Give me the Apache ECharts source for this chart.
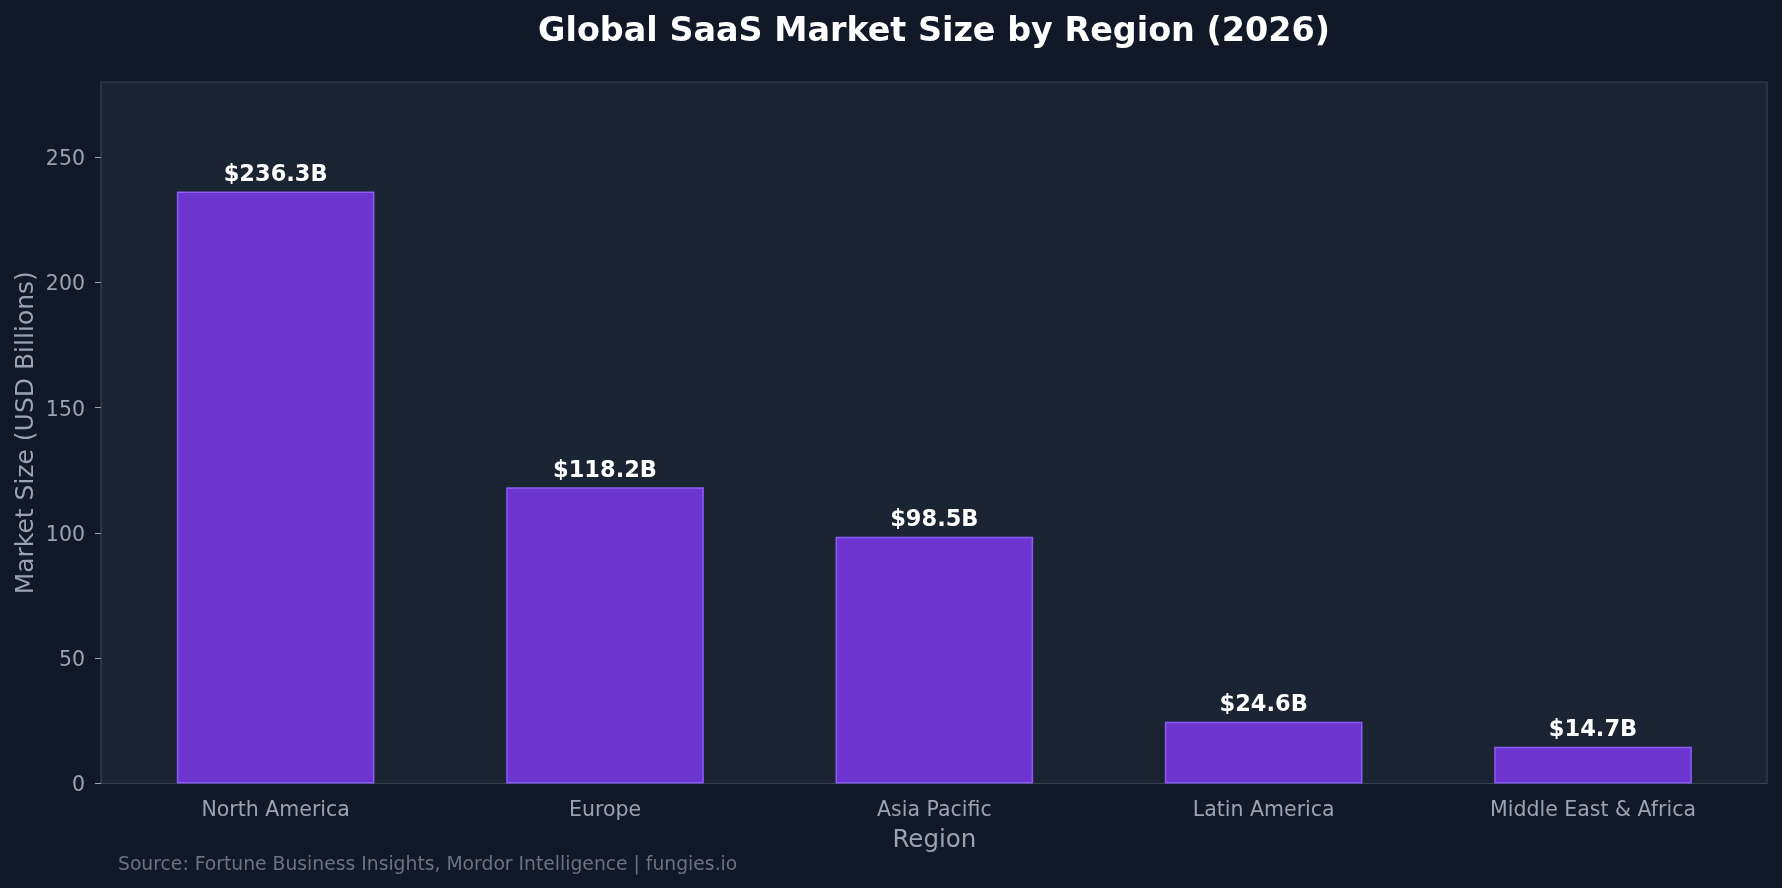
<!DOCTYPE html>
<html>
<head>
<meta charset="utf-8">
<script src="https://cdn.jsdelivr.net/npm/echarts@6/dist/echarts.min.js"></script>
<style>
  html, body { margin: 0; padding: 0; background: #111827; }
  #chart { width: 1782px; height: 888px; }
</style>
</head>
<body>
<div id="chart"></div>
<script>
var regions = ['North America', 'Europe', 'Asia Pacific', 'Latin America', 'Middle East & Africa'];
var marketSize = [236.3, 118.2, 98.5, 24.6, 14.7];
var yTicks = [0, 50, 100, 150, 200, 250];

var chart = echarts.init(document.getElementById('chart'));
var font = 'DejaVu Sans';
var gray = '#9ca3af';

// grid 0 = plot frame + y axis, grid 1 = bars (slightly inset like the original x limits)
chart.setOption({
    backgroundColor: '#111827',
    textStyle: { fontFamily: font },
    title: [{
        text: 'Global SaaS Market Size by Region (2026)',
        left: 929,
        top: 11,
        textAlign: 'center',
        textStyle: { color: '#ffffff', fontSize: 33.4, fontWeight: 'bold', fontFamily: font }
    }, {
        text: 'Source: Fortune Business Insights, Mordor Intelligence | fungies.io',
        left: 113,
        top: 851,
        textStyle: { color: '#6b7280', fontSize: 18.75, fontWeight: 'normal', fontFamily: font }
    }],
    grid: [{
        left: 101,
        right: 15,
        top: 82,
        bottom: 104.5,
        show: true,
        backgroundColor: '#1b2433',
        borderColor: '#374151',
        borderWidth: 1.2
    }, {
        left: 111,
        right: 24.3,
        top: 82,
        bottom: 104.5
    }],
    xAxis: [{
        type: 'value',
        gridIndex: 0,
        show: false
    }, {
        type: 'category',
        gridIndex: 1,
        data: regions,
        name: 'Region',
        nameLocation: 'middle',
        nameGap: 45,
        nameMoveOverlap: false,
        nameTextStyle: { color: gray, fontSize: 24.5, fontFamily: font },
        axisLine: { show: false },
        axisTick: { alignWithLabel: true, length: 6, lineStyle: { color: gray } },
        axisLabel: { color: gray, fontSize: 20.5, margin: 17, fontFamily: font }
    }],
    yAxis: [{
        type: 'value',
        gridIndex: 0,
        min: 0,
        max: 280,
        interval: 50,
        name: 'Market Size (USD Billions)',
        nameLocation: 'middle',
        nameGap: 62,
        nameMoveOverlap: false,
        nameTextStyle: { color: gray, fontSize: 25, fontFamily: font },
        splitLine: { show: false },
        axisLine: { show: false },
        axisTick: { show: true, length: 6, customValues: yTicks, lineStyle: { color: gray } },
        axisLabel: {
            color: gray, fontSize: 20.5, margin: 16, fontFamily: font,
            customValues: yTicks,
            formatter: function (v) { return yTicks.indexOf(v) >= 0 ? '{v|' + v + '}' : ''; },
            rich: {
                v: { color: gray, fontSize: 20.5, fontFamily: font, padding: [5, 0, 0, 0] }
            }
        }
    }, {
        type: 'value',
        gridIndex: 1,
        min: 0,
        max: 280,
        show: false
    }],
    series: [{
        type: 'bar',
        xAxisIndex: 1,
        yAxisIndex: 1,
        data: marketSize,
        barWidth: '60%',
        itemStyle: { color: '#6d35cf', borderColor: '#8b5cf6', borderWidth: 1.5 },
        label: {
            show: true,
            position: 'top',
            distance: 5,
            color: '#ffffff',
            fontSize: 22.5,
            fontWeight: 'bold',
            fontFamily: font,
            formatter: function (p) { return '$' + p.value.toFixed(1) + 'B'; }
        }
    }]
});
</script>
</body>
</html>
